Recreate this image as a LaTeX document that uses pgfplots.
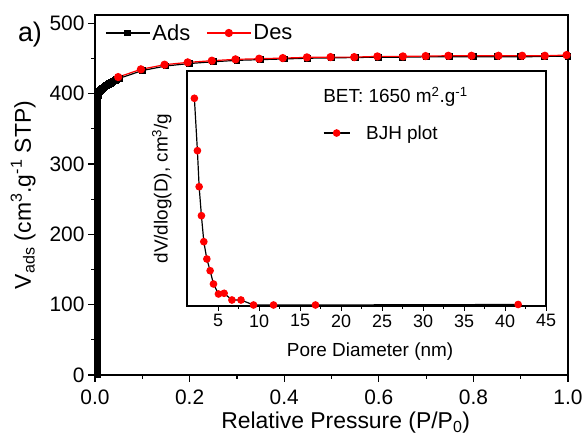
\documentclass[border=0pt]{standalone}
\usepackage{pgfplots}
\pgfplotsset{compat=1.18}
\usepackage{fontspec}
\setmainfont{Liberation Sans}

\pgfplotstableread{
x y
0.005 0
0.005 5
0.005 10
0.005 15
0.005 20
0.005 25
0.005 30
0.005 35
0.005 40
0.005 45
0.005 50
0.005 55
0.005 60
0.005 65
0.005 70
0.005 75
0.005 80
0.005 85
0.005 90
0.005 95
0.005 100
0.005 105
0.005 110
0.005 115
0.005 120
0.005 125
0.005 130
0.005 135
0.005 140
0.005 145
0.005 150
0.005 155
0.005 160
0.005 165
0.005 170
0.005 175
0.005 180
0.005 185
0.005 190
0.005 195
0.005 200
0.005 205
0.005 210
0.005 215
0.005 220
0.005 225
0.005 230
0.005 235
0.005 240
0.005 245
0.005 250
0.005 255
0.005 260
0.005 265
0.005 270
0.005 275
0.005 280
0.005 285
0.005 290
0.005 295
0.005 300
0.005 305
0.005 310
0.005 315
0.005 320
0.005 325
0.005 330
0.005 335
0.005 340
0.005 345
0.005 350
0.005 355
0.005 360
0.005 365
0.005 370
0.005 375
0.005 380
0.005 385
0.0055 390
0.006 395
0.007 398
0.008 401
0.009 403
0.010 404
0.012 405
0.013 406
0.015 407
0.017 408
0.019 409
0.021 410
0.023 411
0.025 412
0.028 413
0.030 414
0.033 415
0.035 416
0.038 417
0.040 418
0.043 419
0.045 420
0.052 422
0.100 433
0.150 439.5
0.200 443
0.250 445.5
0.300 447.5
0.350 448.5
0.400 449.5
0.450 450.5
0.500 451
0.550 451.5
0.600 452
0.650 452
0.700 452.5
0.750 452.5
0.800 452.5
0.850 452.5
0.900 452.5
0.950 453
1.000 453.5
}\adsdata

\pgfplotstableread{
x y
0.049 423.7
0.097 434.7
0.147 441.3
0.196 444.6
0.247 447.0
0.297 448.9
0.347 449.8
0.397 450.7
0.448 451.7
0.498 452.1
0.548 452.1
0.597 453.1
0.651 453.1
0.699 453.6
0.747 454.0
0.796 454.0
0.853 454.0
0.903 454.0
0.951 454.0
0.997 455.0
}\desdata

\pgfplotstableread{
x y
2.10 207.7
2.47 155.3
2.68 119.3
2.96 90.3
3.25 64.3
3.62 47.0
4.02 35.3
4.43 22.0
5.04 12.0
5.73 12.7
6.68 6.0
7.78 6.0
9.32 1.0
11.76 1.0
16.87 1.0
41.60 1.5
}\bjhdata

\begin{document}
\begin{tikzpicture}[x=1bp,y=1bp]
\useasboundingbox (0,0) rectangle (587,441);
\begin{axis}[
  at={(95bp,66bp)}, anchor=south west,
  width=473bp, height=360bp, scale only axis,
  xmin=0, xmax=1, ymin=0, ymax=512,
  xtick={0,0.2,0.4,0.6,0.8,1.0},
  ytick={0,100,200,300,400,500},
  minor x tick num=1, minor y tick num=1,
  tick align=outside, xtick pos=left, ytick pos=left,
  major tick length=7bp, minor tick length=4bp,
  axis line style={line width=1.5bp},
  every tick/.style={line width=1.2bp, black},
  tick label style={font=\fontsize{21}{25}\selectfont},
  /pgf/number format/assume math mode=true,
  xticklabel style={yshift=-4bp, /pgf/number format/.cd, fixed, fixed zerofill, precision=1},
  xlabel={Relative Pressure (P/P\textsubscript{0})},
  ylabel={V\textsubscript{ads} (cm\textsuperscript{3}.g\textsuperscript{-1} STP)},
  label style={font=\fontsize{23}{27}\selectfont},
  xlabel style={at={(axis description cs:0.53,-0.133)}, anchor=center},
  ylabel style={at={(axis description cs:-0.152,0.5)}, anchor=center},
  legend columns=2,
  legend style={at={(axis description cs:0.015,0.95)}, anchor=west, draw=none, fill=none,
    font=\fontsize{22}{26}\selectfont,
    /tikz/every even column/.append style={column sep=14bp}},
  legend image code/.code={\draw[mark repeat=2,mark phase=2] plot coordinates {(0bp,0bp)(22bp,0bp)(44bp,0bp)};},
]
\addplot[black, line width=1.2bp, mark=square*, mark size=2.8bp] table {\adsdata};
\addlegendentry{Ads}
\addplot[red, line width=1.2bp, mark=*, mark size=3.5bp] table {\desdata};
\addlegendentry{Des}
\end{axis}

\begin{axis}[
  at={(187bp,135bp)}, anchor=south west,
  width=359bp, height=235bp, scale only axis,
  axis background/.style={fill=white},
  xmin=1.2, xmax=45, ymin=0, ymax=235,
  xtick={5,10,15,20,25,30,35,40,45},
  minor x tick num=1, ytick=\empty,
  tick align=outside, xtick pos=left,
  major tick length=5bp, minor tick length=3bp,
  axis line style={line width=1.3bp},
  every tick/.style={line width=1bp, black},
  tick label style={font=\fontsize{18}{21}\selectfont},
  /pgf/number format/assume math mode=true,
  xlabel={Pore Diameter (nm)},
  ylabel={dV/dlog(D), cm\textsuperscript{3}/g},
  label style={font=\fontsize{19}{22}\selectfont},
  xlabel style={at={(axis description cs:0.51,-0.196)}, anchor=center},
  ylabel style={at={(axis description cs:-0.07,0.5)}, anchor=center},
  legend style={at={(axis description cs:0.37,0.736)}, anchor=west, draw=none, fill=none,
    font=\fontsize{19}{22}\selectfont,
    /tikz/every odd column/.append style={column sep=14bp}},
  legend image code/.code={\draw[mark repeat=2,mark phase=2] plot coordinates {(0bp,0bp)(13bp,0bp)(26bp,0bp)};},
]
\addplot[black, line width=1.2bp, mark=*, mark size=3.2bp, mark options={draw=red, fill=red}] table {\bjhdata};
\addlegendentry{BJH plot}
\node[anchor=west, font=\fontsize{19}{22}\selectfont] at (rel axis cs:0.37,0.889) {BET: 1650 m\textsuperscript{2}.g\textsuperscript{-1}};
\end{axis}

\node[font=\fontsize{27}{31}\selectfont] at (30,406) {a)};
\end{tikzpicture}
\end{document}
